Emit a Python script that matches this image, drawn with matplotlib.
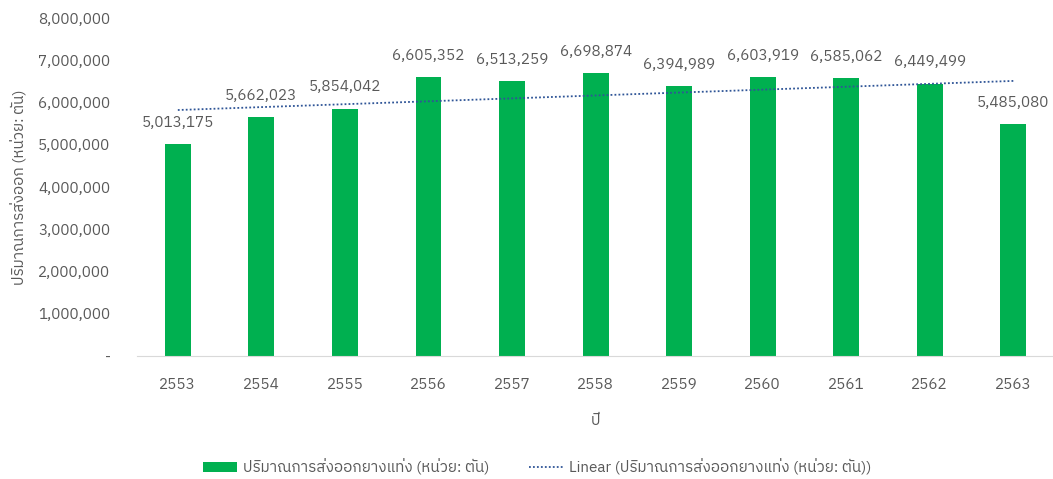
import numpy as np
import matplotlib
matplotlib.use("Agg")
import matplotlib.pyplot as plt
from matplotlib import font_manager
from matplotlib.ft2font import FT2Font
from matplotlib.lines import Line2D
from matplotlib.patches import Patch

# data
years = ["2553", "2554", "2555", "2556", "2557", "2558", "2559", "2560", "2561", "2562", "2563"]
exports = [5013175, 5662023, 5854042, 6605352, 6513259, 6698874, 6394989, 6603919, 6585062, 6449499, 5485080]

bar_label = "ปริมาณการส่งออกยางแท่ง (หน่วย: ตัน)"
trend_label = "Linear (ปริมาณการส่งออกยางแท่ง (หน่วย: ตัน))"
y_title = "ปริมาณการส่งออก (หน่วย: ตัน)"
x_title = "ปี"

# find a font that has Thai glyphs
thai_family = None
for f in font_manager.fontManager.ttflist:
    try:
        if ord("ป") in FT2Font(f.fname).get_charmap():
            thai_family = f.name
            if "Thai" in f.name or "Tahoma" in f.name:
                break
    except Exception:
        pass
fams = ([thai_family] if thai_family else []) + ["DejaVu Sans"]
plt.rcParams["font.family"] = fams

grey = "#595959"
green = "#00B050"
blue = "#2F5597"

fig = plt.figure(figsize=(10.53, 4.79), dpi=100)
ax = fig.add_axes([0.130, 0.257, 0.872, 0.705])

x = np.arange(len(years))
ax.bar(x, exports, width=0.31, color=green, zorder=2)

for xi, v in zip(x, exports):
    ax.text(xi, v + 340000, f"{v:,}", ha="center", va="bottom", fontsize=11, color=grey)

# linear trendline
k, b = np.polyfit(x, exports, 1)
ax.plot(x, k * x + b, linestyle=(0, (1, 1.2)), color=blue, lw=1.3, zorder=3)

ax.set_xlim(-0.49, 10.5)
ax.set_ylim(0, 8000000)
ax.set_yticks(np.arange(0, 8000001, 1000000))
ax.set_yticklabels(["-"] + [f"{v:,}" for v in range(1000000, 8000001, 1000000)])
ax.set_xticks(x)
ax.set_xticklabels(years)
ax.tick_params(axis="both", length=0, labelsize=11, colors=grey)
ax.tick_params(axis="y", pad=19)
ax.tick_params(axis="x", pad=16)

for s in ["top", "right", "left"]:
    ax.spines[s].set_visible(False)
ax.spines["bottom"].set_color("#D9D9D9")

ax.set_ylabel(y_title, fontsize=11, color=grey, labelpad=8)
ax.set_xlabel(x_title, fontsize=11, color=grey, labelpad=16)

handles = [
    Patch(facecolor=green, edgecolor="none"),
    Line2D([0], [0], linestyle=(0, (1, 1.2)), color=blue, lw=1.3),
]
fig.legend(handles, [bar_label, trend_label], loc="center", bbox_to_anchor=(0.51, 0.025),
           ncol=2, frameon=False, fontsize=11, labelcolor=grey, handlelength=2.2,
           handletextpad=0.4, columnspacing=2.6)

fig.savefig("out.png", dpi=100)
